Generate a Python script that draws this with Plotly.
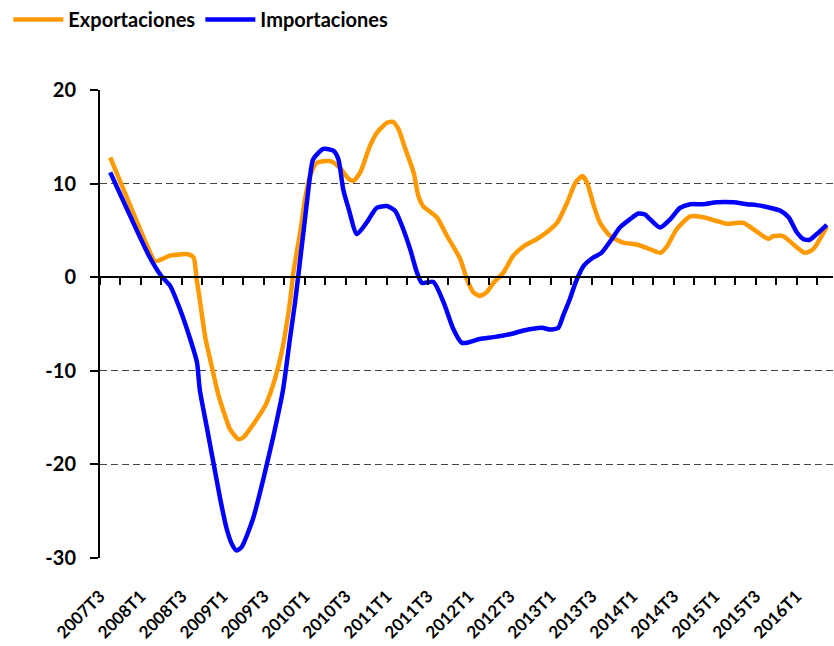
import plotly.graph_objects as go

# x positions in months counted from the 2007T3 tick (one tick = one quarter = 3 months)
exp_month = [1.5, 7.3, 8.05, 10.25, 12.9, 13.7, 14.15, 14.6, 15.4, 16.35, 17.3, 18.3, 19.0, 20.25,
             21.0, 21.96, 23.9, 24.4, 25.6, 26.6, 27.8, 28.3, 29.3, 30.0, 30.75, 31.7, 33.7, 35.1,
             36.4, 37.1, 38.1, 39.5, 40.5, 42.0, 42.9, 43.7, 44.7, 45.9, 46.6, 47.3, 49.3, 50.8,
             52.7, 53.7, 54.65, 55.6, 56.6, 57.6, 59.05, 60.5, 62.0, 63.9, 65.4, 66.9, 68.4, 69.6,
             70.6, 71.3, 72.3, 73.2, 74.7, 76.6, 78.6, 80.5, 82.0, 83.0, 84.4, 86.4, 88.3, 90.3,
             91.8, 93.2, 94.2, 96.1, 97.8, 98.6, 100.0, 101.5, 103.2, 104.4, 106.4]
exportaciones = [12.8, 2.7, 1.7, 2.3, 2.45, 2.1, -0.2, -2.35, -6.4, -9.5, -12.5, -14.8, -16.2, -17.3,
                 -17.1, -16.2, -14.1, -13.4, -10.9, -8.0, -2.7, 0.5, 4.8, 8.3, 10.8, 12.2, 12.4, 11.7,
                 10.5, 10.3, 11.2, 14.0, 15.4, 16.5, 16.6, 15.8, 13.7, 11.2, 8.7, 7.6, 6.4, 4.4,
                 2.0, -0.2, -1.6, -2.0, -1.6, -0.6, 0.5, 2.3, 3.3, 4.05, 4.8, 5.8, 8.0, 10.1,
                 10.8, 10.1, 7.6, 5.8, 4.4, 3.7, 3.5, 3.0, 2.6, 3.3, 5.1, 6.5, 6.4, 6.0,
                 5.7, 5.8, 5.8, 4.9, 4.1, 4.4, 4.4, 3.5, 2.6, 3.0, 5.4]

imp_month = [1.5, 7.3, 9.0, 10.25, 11.7, 13.2, 14.2, 14.6, 15.6, 16.6, 17.6, 18.55, 19.3, 20.0,
             20.75, 22.4, 23.9, 25.4, 26.8, 27.8, 28.55, 29.0, 30.0, 30.75, 31.2, 32.7, 34.2, 34.9,
             35.6, 36.4, 37.6, 39.0, 40.5, 42.0, 43.2, 44.2, 45.4, 46.4, 47.1, 48.8, 50.3, 51.7,
             52.95, 53.7, 55.6, 57.6, 60.0, 62.0, 64.7, 65.9, 67.1, 67.8, 68.8, 69.6, 70.8, 72.2,
             73.4, 74.9, 76.1, 77.6, 78.8, 79.8, 80.5, 82.0, 83.5, 84.9, 86.4, 88.3, 90.3, 92.7,
             94.7, 96.1, 97.6, 99.6, 100.8, 102.0, 103.0, 103.9, 104.9, 106.4]
importaciones = [11.2, 2.1, 0.1, -0.9, -3.4, -6.6, -9.1, -12.0, -15.9, -19.8, -23.7, -26.9, -28.5, -29.2,
                 -28.8, -25.8, -21.6, -16.9, -12.0, -6.6, -2.7, 0.0, 6.2, 10.8, 12.6, 13.7, 13.5, 12.6,
                 9.4, 7.3, 4.6, 5.8, 7.4, 7.6, 7.1, 5.5, 3.0, 0.5, -0.6, -0.5, -2.7, -5.5,
                 -7.0, -7.0, -6.6, -6.4, -6.1, -5.7, -5.4, -5.6, -5.4, -4.1, -2.3, -0.6, 1.2, 2.1,
                 2.6, 4.05, 5.3, 6.2, 6.8, 6.7, 6.2, 5.3, 6.2, 7.4, 7.8, 7.8, 8.0, 8.0,
                 7.8, 7.7, 7.5, 7.1, 6.4, 4.8, 4.05, 4.0, 4.6, 5.6]

quarter_labels = ["2007T3", "2008T1", "2008T3", "2009T1", "2009T3", "2010T1", "2010T3", "2011T1",
                  "2011T3", "2012T1", "2012T3", "2013T1", "2013T3", "2014T1", "2014T3", "2015T1",
                  "2015T3", "2016T1"]
y_ticks = [20, 10, 0, -10, -20, -30]

FONT = "Lato"
ORANGE = "#FF9900"
BLUE = "#0000FF"

fig = go.Figure()
fig.add_trace(go.Scatter(x=exp_month, y=exportaciones, name="Exportaciones", mode="lines",
                         line=dict(color=ORANGE, width=4.5, shape="spline", smoothing=0.6)))
# imports drawn on the overlay axis that carries the zero-line ticks
fig.add_trace(go.Scatter(x=imp_month, y=importaciones, name="Importaciones", mode="lines",
                         xaxis="x2",
                         line=dict(color=BLUE, width=4.5, shape="spline", smoothing=0.6)))

x_range = [0, 107.3]

fig.update_layout(
    width=834, height=646,
    margin=dict(l=100, r=1, t=90, b=88, autoexpand=False),
    plot_bgcolor="white", paper_bgcolor="white",
    font=dict(family=FONT, size=17, color="black"),
    showlegend=True,
    legend=dict(orientation="h", xref="container", yref="container",
                x=0.01, y=1.0, xanchor="left", yanchor="top",
                font=dict(family=FONT, size=20, weight="bold"),
                itemwidth=50, tracegroupgap=0),
    xaxis=dict(range=x_range, showgrid=False, zeroline=False, showline=False, automargin=False,
               tickvals=[i * 6 for i in range(len(quarter_labels))],
               ticktext=quarter_labels, tickangle=-45, ticks="", ticklabelstandoff=24,
               tickfont=dict(family=FONT, size=17, weight="bold")),
    xaxis2=dict(range=x_range, overlaying="x", anchor="free", position=0.6, side="bottom",
                showgrid=False, zeroline=False, showline=True, linecolor="black", linewidth=2,
                ticks="outside", ticklen=7, tickwidth=1.5, tickcolor="black", automargin=False,
                tickvals=[i * 3 for i in range(36)], showticklabels=False),
    yaxis=dict(range=[-30, 20], showgrid=True, gridcolor="#444444", gridwidth=1,
               griddash="7px,4px", zeroline=False, automargin=False,
               showline=True, linecolor="black", linewidth=2,
               ticks="outside", ticklen=8, tickwidth=1.5, tickcolor="black",
               tickvals=y_ticks, ticktext=[str(v) for v in y_ticks], ticklabelstandoff=10,
               tickfont=dict(family=FONT, size=20, weight="bold")),
)

# drop the browser's default 8px body margin so the figure sits at the page corner
fig.write_html("out.html", config={"displayModeBar": False},
               post_script="document.body.style.margin='0px';")
